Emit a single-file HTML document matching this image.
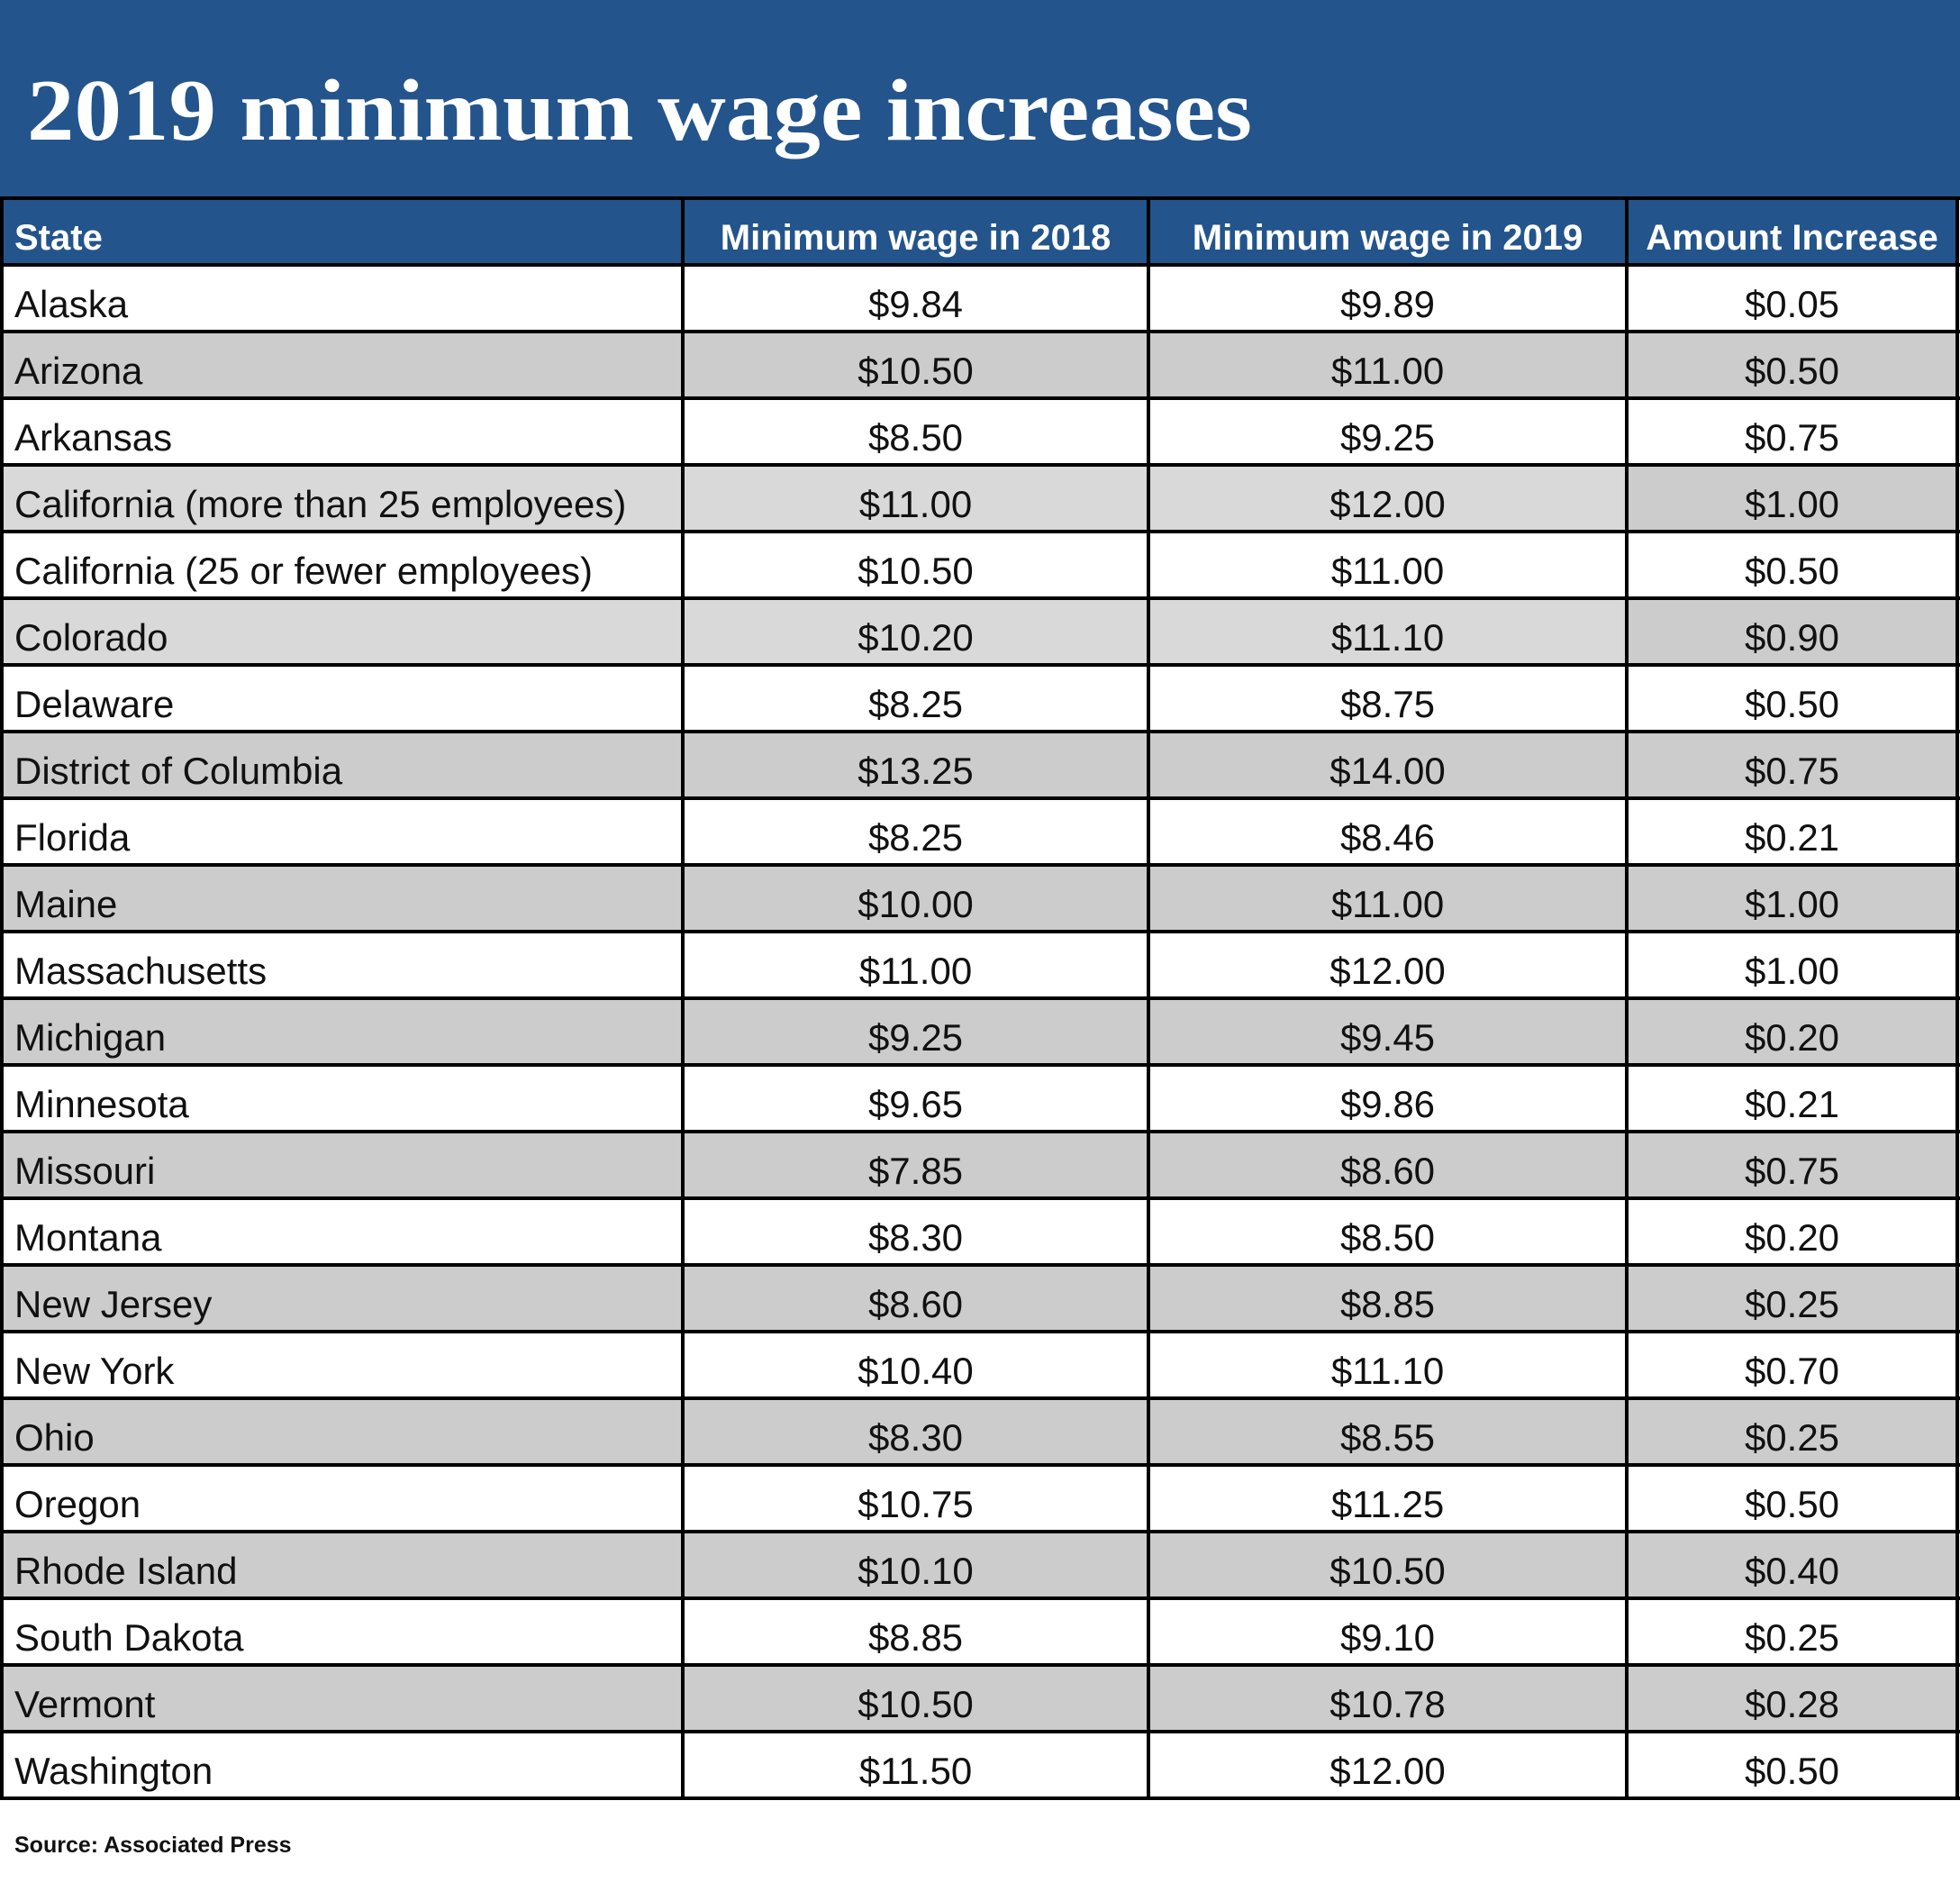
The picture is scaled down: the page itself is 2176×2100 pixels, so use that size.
<!DOCTYPE html>
<html><head><meta charset="utf-8"><style>
html,body{margin:0;padding:0;background:#fff;}
#wrap{position:relative;width:2176px;height:2100px;overflow:hidden;background:#fff;font-family:"Liberation Sans",sans-serif;}
#band{position:absolute;left:0;top:0;width:2176px;height:220px;background:#23548c;}
.cell{position:absolute;box-sizing:border-box;display:flex;align-items:center;font-size:42px;color:#111;white-space:nowrap;overflow:hidden;}
.hd{color:#fff;font-weight:bold;font-size:40px;background:#23548c;}
.vl{position:absolute;background:#000;}
</style></head><body>
<div id="wrap">
<div id="band"></div>
<svg style="position:absolute;left:0;top:0" width="2176" height="220">
<text x="30" y="155" fill="#fff" font-family="Liberation Serif, serif" font-weight="bold" font-size="98" textLength="1360" lengthAdjust="spacingAndGlyphs">2019 minimum wage increases</text>
</svg>
<div id="table"></div>
<div style="position:absolute;left:16px;top:2034px;font-size:25px;font-weight:bold;color:#111">Source: Associated Press</div>
</div>
<script>
const headers=["State","Minimum wage in 2018","Minimum wage in 2019","Amount Increase"];
const states=["Alaska","Arizona","Arkansas","California (more than 25 employees)","California (25 or fewer employees)","Colorado","Delaware","District of Columbia","Florida","Maine","Massachusetts","Michigan","Minnesota","Missouri","Montana","New Jersey","New York","Ohio","Oregon","Rhode Island","South Dakota","Vermont","Washington"];
const wage2018=["$9.84","$10.50","$8.50","$11.00","$10.50","$10.20","$8.25","$13.25","$8.25","$10.00","$11.00","$9.25","$9.65","$7.85","$8.30","$8.60","$10.40","$8.30","$10.75","$10.10","$8.85","$10.50","$11.50"];
const wage2019=["$9.89","$11.00","$9.25","$12.00","$11.00","$11.10","$8.75","$14.00","$8.46","$11.00","$12.00","$9.45","$9.86","$8.60","$8.50","$8.85","$11.10","$8.55","$11.25","$10.50","$9.10","$10.78","$12.00"];
const increase=["$0.05","$0.50","$0.75","$1.00","$0.50","$0.90","$0.50","$0.75","$0.21","$1.00","$1.00","$0.20","$0.21","$0.75","$0.20","$0.25","$0.70","$0.25","$0.50","$0.40","$0.25","$0.28","$0.50"];
const colX=[2,758,1275,1806,2173];
const top0=220, hdH=74, rowH=74;
const t=document.getElementById('table');
function cell(x,y,w,h,txt,cls,center,bg){
  const d=document.createElement('div');
  d.className='cell '+cls;
  d.style.left=x+'px';d.style.top=y+'px';d.style.width=w+'px';d.style.height=h+'px';
  d.style.justifyContent=center?'center':'flex-start';
  if(!center)d.style.paddingLeft='14px';
  d.style.paddingTop='14px';
  if(bg)d.style.background=bg;
  d.textContent=txt;
  t.appendChild(d);return d;
}
headers.forEach((h,i)=>{
  const d=cell(colX[i],top0,colX[i+1]-colX[i],hdH,h,'hd',i>0);
  
  
});
const cols=[states,wage2018,wage2019,increase];
states.forEach((s,r)=>{
  const y=top0+hdH+r*rowH;
  const odd=r%2===1;
  const light=(r===3||r===5);
  for(let c=0;c<4;c++){
    let bg='#fff';
    if(odd)bg='#cccccc';
    if(light)bg=(c<3)?'#d9d9d9':'#cccccc';
    const d=cell(colX[c],y,colX[c+1]-colX[c],rowH,cols[c][r],'',c>0,bg);
    
    
  }
});
const bottom=top0+hdH+states.length*rowH;
function line(x,y,w,h,name){
  const d=document.createElement('div');d.className='vl';
  d.style.left=x+'px';d.style.top=y+'px';d.style.width=w+'px';d.style.height=h+'px';
  
  
  t.appendChild(d);
}
for(let r=0;r<=states.length+1;r++){
  const y=r===0?top0:top0+hdH+(r-1)*rowH;
  line(0,y-2,2176,4,'row-rule');
}
colX.forEach((x,i)=>{line(x-2,top0,4,bottom-top0+2,'column-rule');});
</script>
</body></html>
